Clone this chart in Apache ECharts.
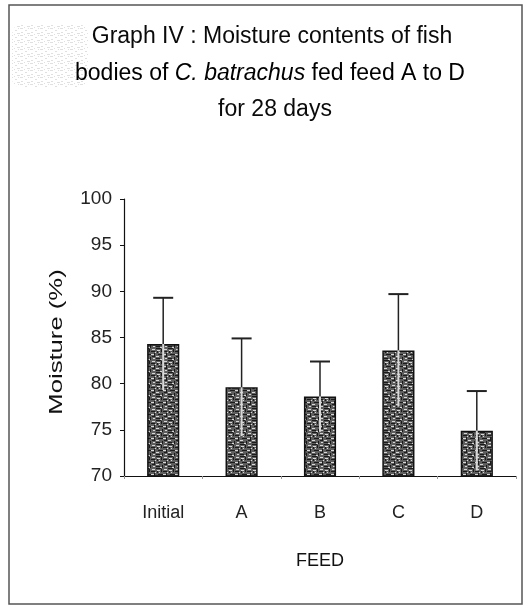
<!DOCTYPE html>
<html>
<head>
<meta charset="utf-8">
<script src="https://cdn.jsdelivr.net/npm/echarts@6/dist/echarts.min.js"></script>
<style>
  html, body { margin: 0; padding: 0; background: #fff; }
  #chart { width: 531px; height: 615px; }
</style>
</head>
<body>
<div id="chart"></div>
<script>
// Moisture content (%) of fish bodies, mean and standard deviation per feed
const feeds = ['Initial', 'A', 'B', 'C', 'D'];
const moisture = [84.3, 79.6, 78.6, 83.6, 74.9];
const moistureSD = [5.0, 5.3, 3.8, 6.1, 4.3];
const yTicks = [70, 75, 80, 85, 90, 95, 100];

const FONT = "'Liberation Sans', Arial, sans-serif";

// Stippled fill used for the bars
function makeStipple() {
  const c = document.createElement('canvas');
  c.width = 12; c.height = 12;
  const g = c.getContext('2d');
  g.fillStyle = '#5e5e5e';
  g.fillRect(0, 0, 12, 12);
  g.fillStyle = '#1a1a1a';
  g.fillRect(0, 0, 5, 1); g.fillRect(7, 3, 4, 1); g.fillRect(2, 6, 5, 1);
  g.fillRect(8, 8, 3, 1); g.fillRect(0, 10, 4, 1); g.fillRect(5, 1, 1, 3);
  g.fillRect(10, 5, 1, 3); g.fillRect(1, 3, 1, 2); g.fillRect(6, 9, 1, 3);
  g.fillStyle = '#d8d8d8';
  g.fillRect(1, 2, 3, 1); g.fillRect(8, 1, 3, 1); g.fillRect(7, 6, 3, 1);
  g.fillRect(0, 8, 3, 1); g.fillRect(4, 11, 2, 1); g.fillRect(9, 10, 2, 1);
  g.fillRect(3, 4, 1, 1); g.fillRect(11, 4, 1, 1);
  return c;
}

// Light speckled tint for the shaded corner behind the title
function makeSpeckle() {
  const c = document.createElement('canvas');
  c.width = 10; c.height = 7;
  const g = c.getContext('2d');
  g.fillStyle = '#bbb';
  g.fillRect(0, 0, 3, 1); g.fillRect(5, 2, 2, 1); g.fillRect(1, 4, 2, 1);
  g.fillRect(7, 5, 3, 1); g.fillRect(8, 0, 1, 1); g.fillRect(4, 6, 1, 1);
  return c;
}

const chart = echarts.init(document.getElementById('chart'), null, { renderer: 'canvas' });

const titleX = 272;

chart.setOption({
  backgroundColor: '#fff',
  animation: false,
  graphic: [
    {
      type: 'rect',
      shape: { x: 9, y: 5, width: 513, height: 599 },
      style: { fill: 'none', stroke: '#555', lineWidth: 1.5 },
      silent: true
    },
    {
      type: 'rect',
      shape: { x: 12, y: 24, width: 76, height: 64, r: 10 },
      style: { fill: { image: makeSpeckle(), repeat: 'repeat' }, opacity: 0.45 },
      silent: true
    },
    {
      type: 'text',
      x: titleX, y: 37,
      style: {
        text: 'Graph IV : Moisture contents of fish',
        font: "23px " + FONT,
        fill: '#0a0a0a',
        align: 'center', verticalAlign: 'middle'
      }
    },
    {
      type: 'text',
      x: titleX - 2, y: 74,
      style: {
        text: '{n|bodies of }{i|C. batrachus}{n| fed feed A to D}',
        align: 'center', verticalAlign: 'middle',
        rich: {
          n: { fontSize: 23, fontFamily: FONT, color: '#0a0a0a' },
          i: { fontSize: 23, fontFamily: FONT, fontStyle: 'italic', color: '#0a0a0a' }
        }
      }
    },
    {
      type: 'text',
      x: titleX + 3, y: 110,
      style: {
        text: 'for 28 days',
        font: "23px " + FONT,
        fill: '#0a0a0a',
        align: 'center', verticalAlign: 'middle'
      }
    },
    {
      // y-axis title, stretched along its length
      type: 'text',
      x: 57, y: 342,
      rotation: Math.PI / 2,
      scaleX: 1.35,
      style: {
        text: 'Moisture (%)',
        font: "19px " + FONT,
        fill: '#111',
        align: 'center', verticalAlign: 'middle'
      }
    }
  ],
  grid: { left: 124, right: 15, top: 199, bottom: 139 },
  xAxis: {
    type: 'category',
    data: feeds,
    name: 'FEED',
    nameLocation: 'middle',
    nameGap: 76,
    nameTextStyle: { fontFamily: FONT, fontSize: 18, color: '#111' },
    axisLine: { lineStyle: { color: '#111', width: 1.2 } },
    axisTick: { show: true, length: 3, lineStyle: { color: '#999' } },
    axisLabel: { fontFamily: FONT, fontSize: 18, color: '#222', margin: 28 }
  },
  yAxis: {
    type: 'value',
    min: yTicks[0],
    max: yTicks[yTicks.length - 1],
    interval: 5,
    axisLine: { show: true, lineStyle: { color: '#111', width: 1.2 } },
    axisTick: { show: true, length: 4, lineStyle: { color: '#111' } },
    axisLabel: { fontFamily: FONT, fontSize: 19, color: '#222', margin: 12 },
    splitLine: { show: false }
  },
  series: [
    {
      type: 'bar',
      data: moisture,
      barWidth: '41%',
      itemStyle: {
        color: { image: makeStipple(), repeat: 'repeat' },
        borderColor: '#111',
        borderWidth: 1.5
      },
      z: 2
    },
    {
      type: 'custom',
      z: 3,
      data: moisture.map((v, i) => [i, v, moistureSD[i]]),
      renderItem: function (params, api) {
        const i = api.value(0), v = api.value(1), sd = api.value(2);
        const mid = api.coord([i, v]);
        const top = api.coord([i, v + sd]);
        const low = api.coord([i, v - sd]);
        const cap = 10;
        return {
          type: 'group',
          children: [
            { type: 'line', shape: { x1: mid[0], y1: mid[1], x2: top[0], y2: top[1] },
              style: { stroke: '#222', lineWidth: 1.5 } },
            { type: 'line', shape: { x1: top[0] - cap, y1: top[1], x2: top[0] + cap, y2: top[1] },
              style: { stroke: '#222', lineWidth: 2 } },
            { type: 'line', shape: { x1: mid[0], y1: mid[1], x2: low[0], y2: low[1] },
              style: { stroke: '#d8d8d8', lineWidth: 2 } }
          ]
        };
      }
    }
  ]
});
</script>
</body>
</html>
